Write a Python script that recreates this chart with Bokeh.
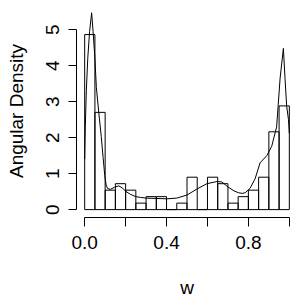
from bokeh.plotting import figure
from bokeh.models import FixedTicker, Range1d
from bokeh.embed import file_html
from bokeh.resources import INLINE

# Histogram: 20 bins of width 0.05 on [0, 1], n = 111 observations
bin_left = [0.00, 0.05, 0.10, 0.15, 0.20, 0.25, 0.30, 0.35, 0.40, 0.45,
            0.50, 0.55, 0.60, 0.65, 0.70, 0.75, 0.80, 0.85, 0.90, 0.95]
bin_width = 0.05
counts = [27, 15, 3, 4, 3, 1, 2, 2, 0, 1, 5, 0, 5, 4, 1, 2, 3, 5, 12, 16]
n_obs = sum(counts)
density = [c / (n_obs * bin_width) for c in counts]
bin_right = [b + bin_width for b in bin_left]

# Angular density curve
curve_x = [0.000, 0.003, 0.008, 0.015, 0.024, 0.034, 0.041, 0.050, 0.057, 0.069,
           0.081, 0.090, 0.098, 0.105, 0.112, 0.125, 0.145, 0.166, 0.185, 0.200,
           0.225, 0.250, 0.272, 0.300, 0.353, 0.402, 0.450, 0.500, 0.548, 0.597,
           0.646, 0.670, 0.700, 0.730, 0.751, 0.770, 0.784, 0.808, 0.833, 0.857,
           0.890, 0.914, 0.938, 0.946, 0.955, 0.971, 0.979, 0.987, 0.996, 1.000]
curve_y = [1.40, 2.30, 3.30, 4.20, 4.95, 5.47, 4.95, 4.20, 3.40, 2.69,
           2.03, 1.45, 0.95, 0.68, 0.59, 0.56, 0.62, 0.66, 0.60, 0.51,
           0.42, 0.36, 0.34, 0.32, 0.31, 0.30, 0.32, 0.405, 0.57, 0.72,
           0.78, 0.77, 0.63, 0.52, 0.47, 0.45, 0.47, 0.59, 0.86, 1.30,
           1.50, 1.76, 2.30, 2.93, 3.65, 4.48, 3.65, 2.88, 2.50, 2.12]

x_ticks = [0.0, 0.2, 0.4, 0.6, 0.8, 1.0]
x_tick_labels = {0.0: "0.0", 0.2: "", 0.4: "0.4", 0.6: "", 0.8: "0.8", 1.0: ""}
y_ticks = [0, 1, 2, 3, 4, 5]

FONT = "Liberation Sans"
FS = "19px"

p = figure(width=300, height=300, output_backend="svg", toolbar_location=None,
           x_range=Range1d(-0.04, 1.04), y_range=Range1d(-0.219, 5.70),
           min_border_left=76, min_border_right=3, min_border_top=4, min_border_bottom=77)
p.outline_line_color = None
p.xgrid.visible = False
p.ygrid.visible = False
p.background_fill_color = "white"
p.border_fill_color = "white"

p.quad(left=bin_left, right=bin_right, bottom=0, top=density,
       fill_color="white", fill_alpha=0, line_color="black", line_width=1)
p.line(curve_x, curve_y, line_color="black", line_width=1)

for ax in (p.xaxis[0], p.yaxis[0]):
    ax.major_label_text_font = FONT
    ax.major_label_text_font_size = FS
    ax.major_label_text_color = "black"
    ax.axis_label_text_font = FONT
    ax.axis_label_text_font_size = FS
    ax.axis_label_text_font_style = "normal"
    ax.axis_label_text_color = "black"
    ax.axis_line_color = "black"
    ax.major_tick_line_color = "black"
    ax.minor_tick_line_color = None
    ax.major_tick_in = 0

xa = p.xaxis[0]
xa.ticker = FixedTicker(ticks=x_ticks)
xa.major_label_overrides = x_tick_labels
xa.bounds = (0, 1)
xa.major_tick_out = 9
xa.major_label_standoff = 9
xa.axis_label = "w"
xa.axis_label_standoff = 25

ya = p.yaxis[0]
ya.ticker = FixedTicker(ticks=y_ticks)
ya.bounds = (0, 5)
ya.major_tick_out = 8
ya.major_label_orientation = "vertical"
ya.major_label_standoff = 9
ya.axis_label = "Angular Density"
ya.axis_label_standoff = 17

open("out.html", "w").write(file_html(p, INLINE))
